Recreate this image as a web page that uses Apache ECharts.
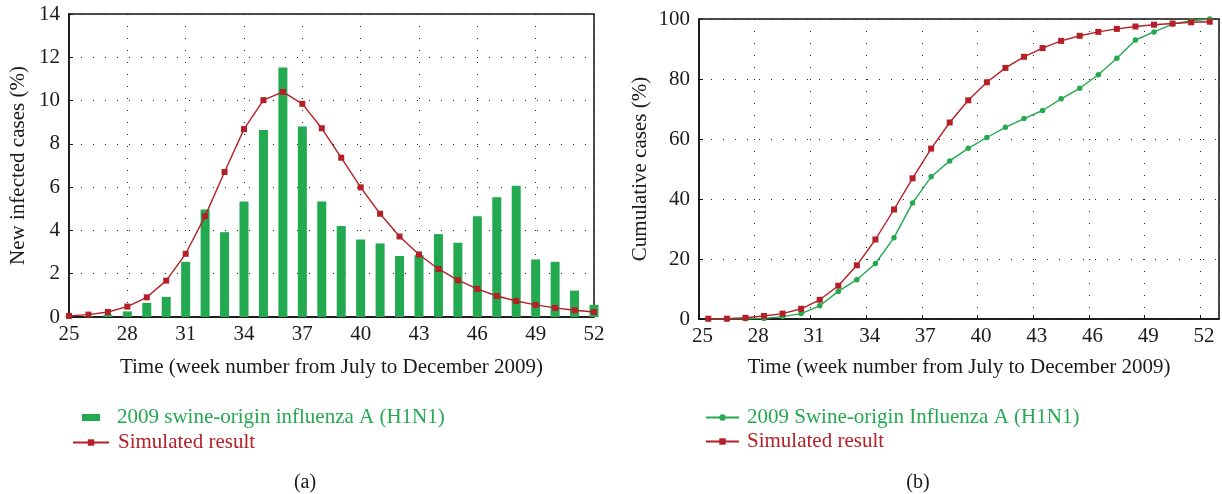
<!DOCTYPE html>
<html>
<head>
<meta charset="utf-8">
<script src="https://cdn.jsdelivr.net/npm/echarts@6/dist/echarts.min.js"></script>
<style>
  html, body { margin: 0; padding: 0; background: #fff; }
  #main { width: 1222px; height: 494px; }
</style>
</head>
<body>
<div id="main"></div>
<script>
// week numbers (July - December 2009)
var weeks = [25, 26, 27, 28, 29, 30, 31, 32, 33, 34, 35, 36, 37, 38, 39, 40,
             41, 42, 43, 44, 45, 46, 47, 48, 49, 50, 51, 52];
// (a) new infected cases (%)
var observedNew = [0.02, 0.04, 0.1, 0.26, 0.65, 0.93, 2.55, 4.97, 3.92, 5.34, 8.64, 11.53, 8.8, 5.34,
                   4.21, 3.58, 3.4, 2.82, 2.86, 3.83, 3.43, 4.65, 5.53, 6.07, 2.66, 2.55, 1.22, 0.56];
var simulatedNew = [0.05, 0.11, 0.23, 0.48, 0.91, 1.68, 2.92, 4.66, 6.70, 8.68, 10.02, 10.40, 9.85, 8.72,
                    7.36, 5.99, 4.77, 3.72, 2.89, 2.22, 1.70, 1.30, 0.97, 0.74, 0.56, 0.42, 0.31, 0.23];
// (b) cumulative cases (%), plotted at end of each week
var cumWeeks = [25.5, 26.5, 27.5, 28.5, 29.5, 30.5, 31.5, 32.5, 33.5, 34.5, 35.5, 36.5, 37.5, 38.5,
                39.5, 40.5, 41.5, 42.5, 43.5, 44.5, 45.5, 46.5, 47.5, 48.5, 49.5, 50.5, 51.5, 52.5];
var cumObserved = [0, 0, 0.1, 0.2, 0.8, 1.8, 4.4, 9.2, 13.1, 18.5, 27.1, 38.7, 47.4, 52.7,
                   56.9, 60.5, 63.9, 66.8, 69.5, 73.4, 76.9, 81.4, 86.9, 93.0, 95.7, 98.3, 99.4, 100];
var cumSimulated = [0.1, 0.1, 0.4, 1.0, 1.8, 3.4, 6.4, 11.1, 17.9, 26.5, 36.5, 46.9, 56.8, 65.5,
                    72.9, 78.9, 83.7, 87.4, 90.3, 92.7, 94.4, 95.7, 96.7, 97.5, 98.1, 98.5, 98.9, 99.1];

var nameObsA = '2009 swine-origin influenza A (H1N1)';
var nameObsB = '2009 Swine-origin Influenza A (H1N1)';
var nameSim = 'Simulated result';
var xTitle = 'Time (week number from July to December 2009)';

var GREEN = '#23a94f';
var RED = '#b51f27';
var FONT = '"Liberation Serif", "DejaVu Serif", serif';
var FS = 21;

function pairs(xs, ys) {
    return xs.map(function (x, i) { return [x, ys[i]]; });
}

var dotted = { color: '#222', width: 1, type: [1, 11] };

function xAxisOf(gridIndex, max, gap, labelPad) {
    return {
        type: 'value', gridIndex: gridIndex, min: 25, max: max, interval: 3,
        name: xTitle, nameLocation: 'middle', nameGap: gap,
        nameTextStyle: { fontFamily: FONT, fontSize: FS, color: '#1a1a1a' },
        axisLine: { lineStyle: { color: '#111', width: 1.5 } },
        axisTick: { inside: true, length: 4, lineStyle: { color: '#111' } },
        axisLabel: { fontFamily: FONT, fontSize: FS, color: '#1a1a1a', margin: 7,
                     padding: [0, 0, 0, labelPad], showMaxLabel: max === 52 },
        splitLine: { show: true, lineStyle: dotted }
    };
}

function yAxisOf(gridIndex, max, interval, title, gap) {
    return {
        type: 'value', gridIndex: gridIndex, min: 0, max: max, interval: interval,
        name: title, nameLocation: 'middle', nameGap: gap,
        nameTextStyle: { fontFamily: FONT, fontSize: FS, color: '#1a1a1a' },
        axisLine: { show: true, lineStyle: { color: '#111', width: 1.5 } },
        axisTick: { show: true, inside: true, length: 4, lineStyle: { color: '#111' } },
        axisLabel: { fontFamily: FONT, fontSize: FS, color: '#1a1a1a', margin: 9 },
        splitLine: { show: true, lineStyle: dotted }
    };
}

var myChart = echarts.init(document.getElementById('main'));
var option = {
    animation: false,
    backgroundColor: '#fff',
    grid: [
        { left: 69, right: 628, top: 14, bottom: 177, show: true, borderColor: '#111', borderWidth: 1.5 },
        { left: 699, right: 3, top: 19, bottom: 175, show: true, borderColor: '#111', borderWidth: 1.5 }
    ],
    xAxis: [xAxisOf(0, 52, 40, 0), xAxisOf(1, 53, 38, 7)],
    yAxis: [
        yAxisOf(0, 14, 2, 'New infected cases (%)', 40),
        yAxisOf(1, 100, 20, 'Cumulative cases (%)', 48)
    ],
    legend: [
        {
            left: 77, top: 402, itemWidth: 18, itemHeight: 7, icon: 'rect',
            data: [{ name: nameObsA }],
            textStyle: { fontFamily: FONT, fontSize: FS, color: GREEN, padding: [0, 0, 0, 12] }
        },
        {
            left: 67, top: 427, itemWidth: 36, itemHeight: 8,
            data: [{ name: nameSim }],
            textStyle: { fontFamily: FONT, fontSize: FS, color: RED, padding: [0, 0, 0, 4] }
        },
        {
            left: 700, top: 402, orient: 'vertical', itemWidth: 33, itemHeight: 8, itemGap: 3,
            data: [
                { name: nameObsB, textStyle: { color: GREEN } },
                { name: nameSim, textStyle: { color: RED } }
            ],
            textStyle: { fontFamily: FONT, fontSize: FS, padding: [0, 0, 0, 3] }
        }
    ],
    title: [
        { text: '(a)', left: 300, top: 468, textAlign: 'center',
          textStyle: { fontFamily: FONT, fontSize: 20, fontWeight: 'normal', color: '#1a1a1a' } },
        { text: '(b)', left: 913, top: 468, textAlign: 'center',
          textStyle: { fontFamily: FONT, fontSize: 20, fontWeight: 'normal', color: '#1a1a1a' } }
    ],
    series: [
        {
            name: nameObsA, type: 'bar', xAxisIndex: 0, yAxisIndex: 0,
            data: pairs(weeks, observedNew), barWidth: 9,
            itemStyle: { color: GREEN }
        },
        {
            name: nameSim, type: 'line', xAxisIndex: 0, yAxisIndex: 0,
            data: pairs(weeks, simulatedNew), symbol: 'rect', symbolSize: 6, showAllSymbol: true,
            lineStyle: { color: RED, width: 1.4 }, itemStyle: { color: RED }, z: 3
        },
        {
            name: nameObsB, type: 'line', xAxisIndex: 1, yAxisIndex: 1,
            data: pairs(cumWeeks, cumObserved), symbol: 'circle', symbolSize: 5.5, showAllSymbol: true,
            lineStyle: { color: GREEN, width: 1.4 }, itemStyle: { color: GREEN }
        },
        {
            name: nameSim, type: 'line', xAxisIndex: 1, yAxisIndex: 1,
            data: pairs(cumWeeks, cumSimulated), symbol: 'rect', symbolSize: 6, showAllSymbol: true,
            lineStyle: { color: RED, width: 1.4 }, itemStyle: { color: RED }
        }
    ]
};
myChart.setOption(option);
</script>
</body>
</html>
